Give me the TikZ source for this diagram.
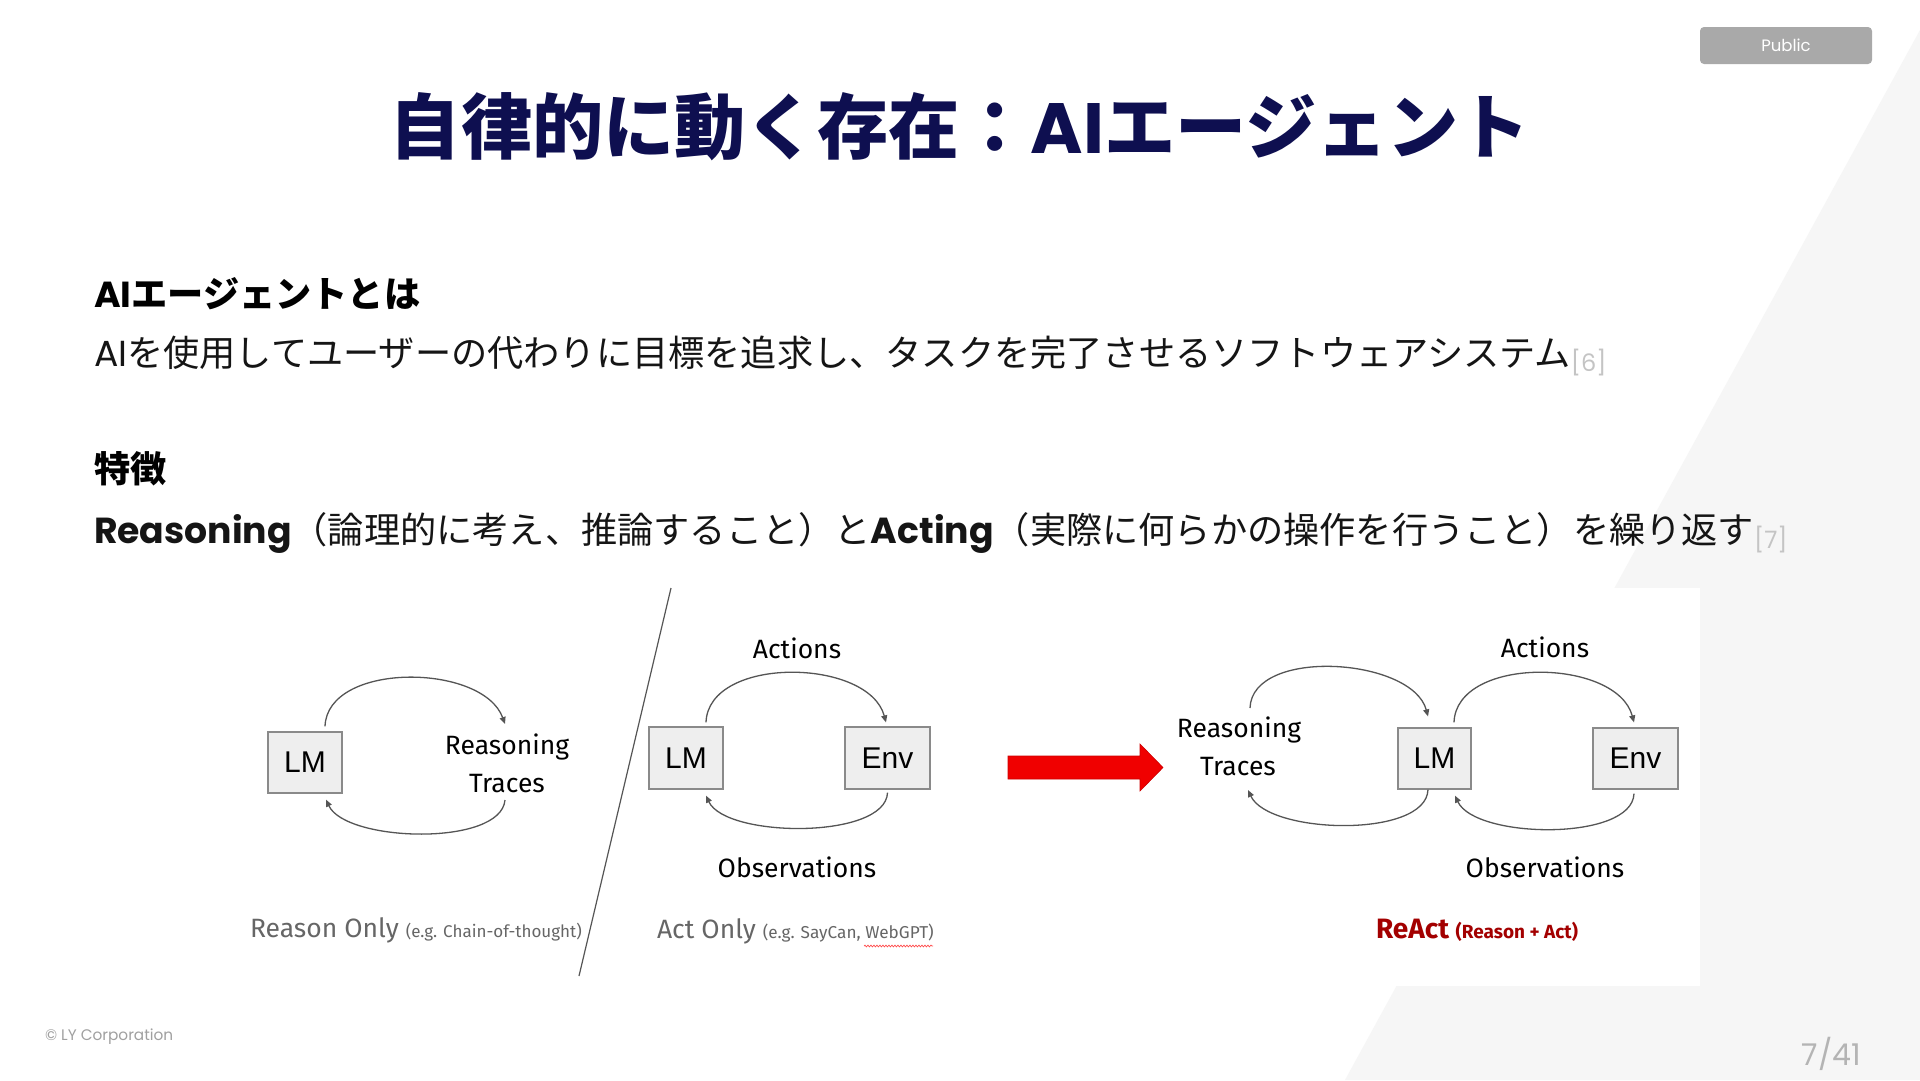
\documentclass[tikz,border=0pt]{standalone}
\usepackage{fontspec}
\setmainfont{Poppins}
\newfontfamily\jp{Noto Sans CJK JP}
\newfontfamily\pop{Poppins}
\newfontfamily\dia{Fira Sans}
\newfontfamily\ari{Liberation Sans}
\usetikzlibrary{arrows.meta,decorations.pathmorphing}
\definecolor{navy}{HTML}{0E0F50}
\definecolor{refgray}{HTML}{C4C4C4}
\definecolor{bgray}{HTML}{F6F6F6}
\definecolor{badgegray}{HTML}{A9A9A9}
\definecolor{boxfill}{HTML}{EEEEEE}
\definecolor{boxline}{HTML}{8A8A8A}
\definecolor{arcgray}{HTML}{555555}
\definecolor{labgray}{HTML}{666666}
\definecolor{darkred}{HTML}{A30000}
\definecolor{arrowred}{HTML}{F00000}
\definecolor{textblack}{HTML}{151515}
\definecolor{footgray}{HTML}{A0A0A0}
\definecolor{pagegray}{HTML}{B4B4B4}
\newcommand\setfs[1]{\fontsize{#1}{#1}\selectfont}
\begin{document}
\begin{tikzpicture}[x=1pt,y=-1pt,
  txt/.style={inner sep=0pt, outer sep=0pt},
  boxnode/.style={draw=boxline, line width=1.2pt, fill=boxfill, inner sep=0pt, font=\ari\setfs{30}},
  lab/.style={inner sep=0pt, outer sep=0pt, font=\dia\setfs{26.5}, anchor=base},
  loop/.style={draw=arcgray, line width=1.3pt, -{Triangle[length=7pt,width=6pt]}},
]
\useasboundingbox (0,0) rectangle (1920,1080);
\fill[white] (0,0) rectangle (1920,1080);
\fill[bgray] (1920,30) -- (1345,1080) -- (1920,1080) -- cycle;
\fill[white] (230,588) rectangle (1700,986);

% badge
\node[fill=badgegray, rounded corners=4pt, minimum width=172pt, minimum height=37pt,
      text=white, font=\pop\setfs{16.5}, inner sep=0pt] (pub) at (1786,45.5) {Public};

% title
\node[txt, anchor=base, text=navy, font=\setfs{71.2}] (title) at (960,153)
  {\jp\bfseries 自律的に動く存在：{\pop\bfseries AI}エージェント};

% text block
\node[txt, anchor=base west, text=black, font=\setfs{36.2}] (h1) at (94,307)
  {{\pop\bfseries AI}{\jp\bfseries エージェントとは}};
\node[txt, anchor=base west, text=textblack, font=\setfs{36.2}] (b1) at (94,366)
  {{\pop AI}{\jp を使用してユーザーの代わりに目標を追求し、タスクを完了させるソフトウェアシステム}};
\node[txt, anchor=base west, text=refgray, font=\pop\setfs{24}] (r6) at ([yshift=-5pt]b1.base east) {[6]};

\node[txt, anchor=base west, text=black, font=\setfs{36.2}] (h2) at (94,482)
  {\jp\bfseries 特徴};
\node[txt, anchor=base west, text=textblack, font=\setfs{36.2}] (b2) at (94,543)
  {{\pop\bfseries Reasoning}{\jp （論理的に考え、推論すること）と}{\pop\bfseries Acting}{\jp （実際に何らかの操作を行うこと）を繰り返す}};
\node[txt, anchor=base west, text=refgray, font=\pop\setfs{24}] (r7) at ([yshift=-5pt]b2.base east) {[7]};

% ---- Reason only
\node[boxnode, minimum width=74pt, minimum height=61pt] (lmA) at (305,762.5) {LM};
\node[lab] (rsA) at (507,754) {Reasoning};
\node[lab] (trA) at (507,792) {Traces};
\draw[loop] ([shift={(20,-5)}]lmA.north) to[out=88,in=110,distance=65pt] ([shift={(-2,-30)}]rsA.base);
\draw[loop] ([shift={(-2,8)}]trA.base) to[out=-95,in=-65,distance=47pt] ([shift={(21,6)}]lmA.south);
\node[txt, anchor=base west, text=labgray] (capA) at (250,937)
  {\dia\setfs{26.5}Reason Only {\setfs{17}(e.g. Chain-of-thought)}};

% divider
\draw[line width=1.2pt, arcgray] (671,588) -- (579,976);

% ---- Act only
\node[boxnode, minimum width=74pt, minimum height=62pt] (lmB) at (686,758) {LM};
\node[boxnode, minimum width=85pt, minimum height=62pt] (envB) at (887.5,758) {Env};
\node[lab] (actB) at (797,658) {Actions};
\node[lab] (obsB) at (797,877) {Observations};
\draw[loop] ([shift={(20,-4)}]lmB.north) to[out=88,in=105,distance=67pt] ([shift={(-1.5,-4)}]envB.north);
\draw[loop] ([shift={(0,3)}]envB.south) to[out=-92,in=-65,distance=47pt] ([shift={(20,6)}]lmB.south);
\node[txt, anchor=base west, text=labgray] (capB) at (657,938)
  {\dia\setfs{26.5}Act Only {\setfs{17.2}(e.g. SayCan, WebGPT)}};
\draw[color=red!70!white, line width=0.7pt, decorate, decoration={snake, amplitude=0.9pt, segment length=3pt}]
  (864,946) -- (933,946);

% red arrow
\fill[arrowred, draw=arrowred!85!black, line width=0.6pt]
  (1008,756) -- (1140,756) -- (1140,744) -- (1163,767.5) -- (1140,791) -- (1140,779) -- (1008,779) -- cycle;

% ---- ReAct
\node[lab] (rsC) at (1239,737) {Reasoning};
\node[lab] (trC) at (1238,775) {Traces};
\node[boxnode, minimum width=73pt, minimum height=61pt] (lmC) at (1434.5,758.5) {LM};
\node[boxnode, minimum width=85pt, minimum height=61pt] (envC) at (1635.5,758.5) {Env};
\node[lab] (actC) at (1545,657) {Actions};
\node[lab] (obsC) at (1545,877) {Observations};
\draw[loop] ([shift={(11,-29)}]rsC.base) to[out=88,in=105,distance=61pt] ([shift={(-6.5,-11)}]lmC.north);
\draw[loop] ([shift={(-6.5,0)}]lmC.south) to[out=-92,in=-65,distance=49pt] ([shift={(10,15)}]trC.base);
\draw[loop] ([shift={(19.5,-5)}]lmC.north) to[out=88,in=105,distance=67pt] ([shift={(-1.5,-5)}]envC.north);
\draw[loop] ([shift={(-1.5,4)}]envC.south) to[out=-92,in=-65,distance=48pt] ([shift={(20.5,6)}]lmC.south);
\node[txt, anchor=base west, text=darkred] (capC) at (1376,938)
  {\dia\bfseries\setfs{28}ReAct {\setfs{19}(Reason + Act)}};

% footer
\node[txt, anchor=base west, text=footgray, font=\pop\setfs{15.3}] (copy) at (45,1040) {© LY Corporation};
\node[txt, anchor=base east, text=pagegray, font=\pop\setfs{30}] (pg) at (1861,1065) {7/41};
\end{tikzpicture}
\end{document}
